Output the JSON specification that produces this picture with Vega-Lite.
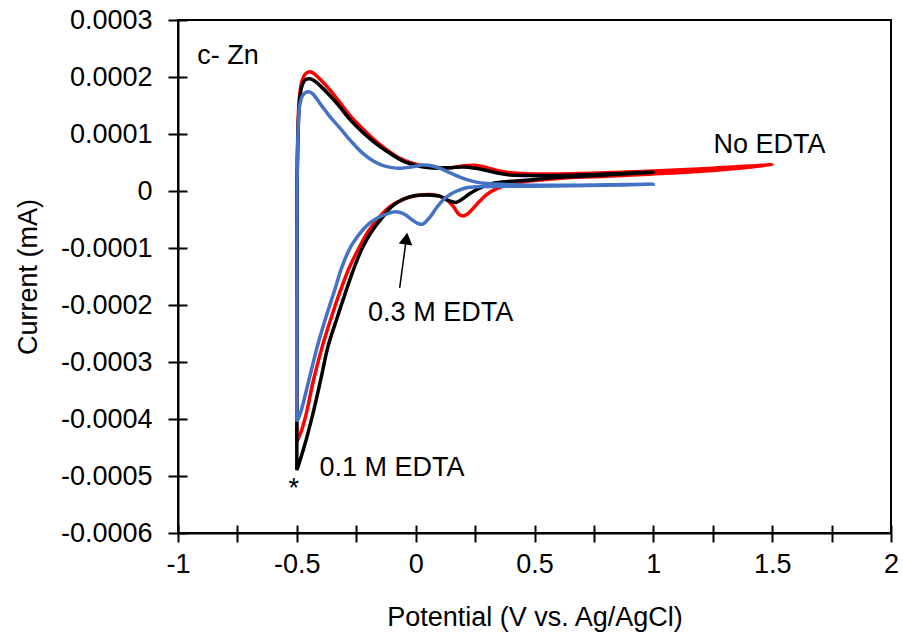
{
  "$schema": "https://vega.github.io/schema/vega-lite/v6.json",
  "width": 713,
  "height": 513,
  "autosize": "none",
  "padding": {"left": 178, "top": 20, "right": 12, "bottom": 107},
  "background": "white",
  "config": {
    "font": "Liberation Sans",
    "view": {"stroke": "#000000", "strokeWidth": 2},
    "axis": {
      "grid": false,
      "domainColor": "#000000",
      "domainWidth": 2,
      "tickColor": "#000000",
      "tickWidth": 2,
      "labelColor": "#000000",
      "labelFont": "Liberation Sans",
      "labelFontSize": 27,
      "titleFont": "Liberation Sans",
      "titleFontSize": 27,
      "titleFontWeight": "normal",
      "titleColor": "#000000",
      "labelFlush": false,
      "labelOverlap": false
    }
  },
  "datasets": {
    "cv": [
      {"s":"No EDTA","n":1,"v":-0.5,"i":-0.00044},
      {"s":"No EDTA","n":2,"v":-0.5,"i":-0.0002},
      {"s":"No EDTA","n":3,"v":-0.499,"i":0},
      {"s":"No EDTA","n":4,"v":-0.496,"i":0.0001},
      {"s":"No EDTA","n":5,"v":-0.49,"i":0.00016},
      {"s":"No EDTA","n":6,"v":-0.48,"i":0.00019},
      {"s":"No EDTA","n":7,"v":-0.465,"i":0.000205},
      {"s":"No EDTA","n":8,"v":-0.445,"i":0.000209},
      {"s":"No EDTA","n":9,"v":-0.425,"i":0.000205},
      {"s":"No EDTA","n":10,"v":-0.4,"i":0.000195},
      {"s":"No EDTA","n":11,"v":-0.36,"i":0.000177},
      {"s":"No EDTA","n":12,"v":-0.32,"i":0.000156},
      {"s":"No EDTA","n":13,"v":-0.28,"i":0.000134},
      {"s":"No EDTA","n":14,"v":-0.22,"i":0.000108},
      {"s":"No EDTA","n":15,"v":-0.16,"i":0.000085},
      {"s":"No EDTA","n":16,"v":-0.1,"i":0.000066},
      {"s":"No EDTA","n":17,"v":-0.05,"i":0.000054},
      {"s":"No EDTA","n":18,"v":0,"i":0.000047},
      {"s":"No EDTA","n":19,"v":0.05,"i":0.000043},
      {"s":"No EDTA","n":20,"v":0.1,"i":0.000041},
      {"s":"No EDTA","n":21,"v":0.15,"i":0.000041},
      {"s":"No EDTA","n":22,"v":0.2,"i":0.000044},
      {"s":"No EDTA","n":23,"v":0.25,"i":0.000045},
      {"s":"No EDTA","n":24,"v":0.3,"i":0.000041},
      {"s":"No EDTA","n":25,"v":0.35,"i":0.000035},
      {"s":"No EDTA","n":26,"v":0.4,"i":0.000032},
      {"s":"No EDTA","n":27,"v":0.5,"i":0.00003},
      {"s":"No EDTA","n":28,"v":0.6,"i":0.00003},
      {"s":"No EDTA","n":29,"v":0.8,"i":0.000032},
      {"s":"No EDTA","n":30,"v":1.0,"i":0.000035},
      {"s":"No EDTA","n":31,"v":1.25,"i":0.00004},
      {"s":"No EDTA","n":32,"v":1.5,"i":0.000046},
      {"s":"No EDTA","n":33,"v":1.25,"i":0.000036},
      {"s":"No EDTA","n":34,"v":1.0,"i":0.00003},
      {"s":"No EDTA","n":35,"v":0.8,"i":0.000026},
      {"s":"No EDTA","n":36,"v":0.6,"i":0.000022},
      {"s":"No EDTA","n":37,"v":0.45,"i":0.000016},
      {"s":"No EDTA","n":38,"v":0.38,"i":0.00001},
      {"s":"No EDTA","n":39,"v":0.33,"i":0.000002},
      {"s":"No EDTA","n":40,"v":0.3,"i":-0.000006},
      {"s":"No EDTA","n":41,"v":0.26,"i":-0.000022},
      {"s":"No EDTA","n":42,"v":0.225,"i":-0.000038},
      {"s":"No EDTA","n":43,"v":0.2,"i":-0.000044},
      {"s":"No EDTA","n":44,"v":0.18,"i":-0.00004},
      {"s":"No EDTA","n":45,"v":0.16,"i":-0.000028},
      {"s":"No EDTA","n":46,"v":0.13,"i":-0.000015},
      {"s":"No EDTA","n":47,"v":0.1,"i":-0.000009},
      {"s":"No EDTA","n":48,"v":0.06,"i":-0.000006},
      {"s":"No EDTA","n":49,"v":0.02,"i":-0.000007},
      {"s":"No EDTA","n":50,"v":-0.02,"i":-0.00001},
      {"s":"No EDTA","n":51,"v":-0.06,"i":-0.000016},
      {"s":"No EDTA","n":52,"v":-0.11,"i":-0.000028},
      {"s":"No EDTA","n":53,"v":-0.151,"i":-0.000045},
      {"s":"No EDTA","n":54,"v":-0.2,"i":-0.000071},
      {"s":"No EDTA","n":55,"v":-0.236,"i":-0.000098},
      {"s":"No EDTA","n":56,"v":-0.28,"i":-0.000135},
      {"s":"No EDTA","n":57,"v":-0.316,"i":-0.000174},
      {"s":"No EDTA","n":58,"v":-0.355,"i":-0.000222},
      {"s":"No EDTA","n":59,"v":-0.393,"i":-0.000273},
      {"s":"No EDTA","n":60,"v":-0.43,"i":-0.000332},
      {"s":"No EDTA","n":61,"v":-0.46,"i":-0.00039},
      {"s":"No EDTA","n":62,"v":-0.48,"i":-0.00042},
      {"s":"No EDTA","n":63,"v":-0.5,"i":-0.00044},

      {"s":"0.1 M EDTA","n":1,"v":-0.5,"i":-0.00049},
      {"s":"0.1 M EDTA","n":2,"v":-0.5,"i":-0.0003},
      {"s":"0.1 M EDTA","n":3,"v":-0.499,"i":0},
      {"s":"0.1 M EDTA","n":4,"v":-0.495,"i":0.0001},
      {"s":"0.1 M EDTA","n":5,"v":-0.49,"i":0.00015},
      {"s":"0.1 M EDTA","n":6,"v":-0.48,"i":0.000182},
      {"s":"0.1 M EDTA","n":7,"v":-0.465,"i":0.000195},
      {"s":"0.1 M EDTA","n":8,"v":-0.445,"i":0.000197},
      {"s":"0.1 M EDTA","n":9,"v":-0.425,"i":0.000193},
      {"s":"0.1 M EDTA","n":10,"v":-0.4,"i":0.000184},
      {"s":"0.1 M EDTA","n":11,"v":-0.36,"i":0.000167},
      {"s":"0.1 M EDTA","n":12,"v":-0.32,"i":0.000148},
      {"s":"0.1 M EDTA","n":13,"v":-0.28,"i":0.000127},
      {"s":"0.1 M EDTA","n":14,"v":-0.22,"i":0.000102},
      {"s":"0.1 M EDTA","n":15,"v":-0.16,"i":0.000081},
      {"s":"0.1 M EDTA","n":16,"v":-0.1,"i":0.000064},
      {"s":"0.1 M EDTA","n":17,"v":-0.05,"i":0.000052},
      {"s":"0.1 M EDTA","n":18,"v":0,"i":0.000045},
      {"s":"0.1 M EDTA","n":19,"v":0.05,"i":0.000041},
      {"s":"0.1 M EDTA","n":20,"v":0.1,"i":0.00004},
      {"s":"0.1 M EDTA","n":21,"v":0.15,"i":0.000041},
      {"s":"0.1 M EDTA","n":22,"v":0.2,"i":0.000042},
      {"s":"0.1 M EDTA","n":23,"v":0.25,"i":0.00004},
      {"s":"0.1 M EDTA","n":24,"v":0.3,"i":0.000036},
      {"s":"0.1 M EDTA","n":25,"v":0.35,"i":0.000031},
      {"s":"0.1 M EDTA","n":26,"v":0.4,"i":0.000028},
      {"s":"0.1 M EDTA","n":27,"v":0.5,"i":0.000027},
      {"s":"0.1 M EDTA","n":28,"v":0.6,"i":0.000027},
      {"s":"0.1 M EDTA","n":29,"v":0.8,"i":0.00003},
      {"s":"0.1 M EDTA","n":30,"v":1.0,"i":0.000033},
      {"s":"0.1 M EDTA","n":31,"v":0.8,"i":0.000028},
      {"s":"0.1 M EDTA","n":32,"v":0.6,"i":0.000024},
      {"s":"0.1 M EDTA","n":33,"v":0.5,"i":0.00002},
      {"s":"0.1 M EDTA","n":34,"v":0.4,"i":0.000017},
      {"s":"0.1 M EDTA","n":35,"v":0.33,"i":0.000014},
      {"s":"0.1 M EDTA","n":36,"v":0.29,"i":0.000009},
      {"s":"0.1 M EDTA","n":37,"v":0.26,"i":0.000003},
      {"s":"0.1 M EDTA","n":38,"v":0.23,"i":-0.000004},
      {"s":"0.1 M EDTA","n":39,"v":0.2,"i":-0.000013},
      {"s":"0.1 M EDTA","n":40,"v":0.17,"i":-0.00002},
      {"s":"0.1 M EDTA","n":41,"v":0.14,"i":-0.000017},
      {"s":"0.1 M EDTA","n":42,"v":0.1,"i":-0.000009},
      {"s":"0.1 M EDTA","n":43,"v":0.05,"i":-0.000007},
      {"s":"0.1 M EDTA","n":44,"v":0,"i":-0.000008},
      {"s":"0.1 M EDTA","n":45,"v":-0.05,"i":-0.000014},
      {"s":"0.1 M EDTA","n":46,"v":-0.1,"i":-0.000027},
      {"s":"0.1 M EDTA","n":47,"v":-0.137,"i":-0.000045},
      {"s":"0.1 M EDTA","n":48,"v":-0.18,"i":-0.000068},
      {"s":"0.1 M EDTA","n":49,"v":-0.222,"i":-0.0000977},
      {"s":"0.1 M EDTA","n":50,"v":-0.26,"i":-0.000136},
      {"s":"0.1 M EDTA","n":51,"v":-0.292,"i":-0.000174},
      {"s":"0.1 M EDTA","n":52,"v":-0.33,"i":-0.000222},
      {"s":"0.1 M EDTA","n":53,"v":-0.369,"i":-0.000273},
      {"s":"0.1 M EDTA","n":54,"v":-0.4,"i":-0.000332},
      {"s":"0.1 M EDTA","n":55,"v":-0.432,"i":-0.00039},
      {"s":"0.1 M EDTA","n":56,"v":-0.47,"i":-0.00045},
      {"s":"0.1 M EDTA","n":57,"v":-0.5,"i":-0.00049},

      {"s":"0.3 M EDTA","n":1,"v":-0.5,"i":-0.000405},
      {"s":"0.3 M EDTA","n":2,"v":-0.5,"i":-0.0002},
      {"s":"0.3 M EDTA","n":3,"v":-0.499,"i":0},
      {"s":"0.3 M EDTA","n":4,"v":-0.495,"i":0.0001},
      {"s":"0.3 M EDTA","n":5,"v":-0.488,"i":0.00015},
      {"s":"0.3 M EDTA","n":6,"v":-0.475,"i":0.000168},
      {"s":"0.3 M EDTA","n":7,"v":-0.455,"i":0.000174},
      {"s":"0.3 M EDTA","n":8,"v":-0.435,"i":0.000171},
      {"s":"0.3 M EDTA","n":9,"v":-0.4,"i":0.000152},
      {"s":"0.3 M EDTA","n":10,"v":-0.36,"i":0.00013},
      {"s":"0.3 M EDTA","n":11,"v":-0.32,"i":0.000111},
      {"s":"0.3 M EDTA","n":12,"v":-0.29,"i":0.000096},
      {"s":"0.3 M EDTA","n":13,"v":-0.26,"i":0.000082},
      {"s":"0.3 M EDTA","n":14,"v":-0.222,"i":0.000066},
      {"s":"0.3 M EDTA","n":15,"v":-0.18,"i":0.000053},
      {"s":"0.3 M EDTA","n":16,"v":-0.14,"i":0.000045},
      {"s":"0.3 M EDTA","n":17,"v":-0.1,"i":0.000041},
      {"s":"0.3 M EDTA","n":18,"v":-0.06,"i":0.00004},
      {"s":"0.3 M EDTA","n":19,"v":-0.02,"i":0.000042},
      {"s":"0.3 M EDTA","n":20,"v":0.03,"i":0.0000455},
      {"s":"0.3 M EDTA","n":21,"v":0.07,"i":0.000044},
      {"s":"0.3 M EDTA","n":22,"v":0.1,"i":0.00004},
      {"s":"0.3 M EDTA","n":23,"v":0.15,"i":0.000031},
      {"s":"0.3 M EDTA","n":24,"v":0.2,"i":0.000022},
      {"s":"0.3 M EDTA","n":25,"v":0.25,"i":0.000016},
      {"s":"0.3 M EDTA","n":26,"v":0.3,"i":0.000013},
      {"s":"0.3 M EDTA","n":27,"v":0.4,"i":0.000011},
      {"s":"0.3 M EDTA","n":28,"v":0.6,"i":0.00001},
      {"s":"0.3 M EDTA","n":29,"v":0.8,"i":0.000011},
      {"s":"0.3 M EDTA","n":30,"v":1.0,"i":0.000012},
      {"s":"0.3 M EDTA","n":31,"v":0.8,"i":0.00001},
      {"s":"0.3 M EDTA","n":32,"v":0.5,"i":0.0000085},
      {"s":"0.3 M EDTA","n":33,"v":0.3,"i":0.000008},
      {"s":"0.3 M EDTA","n":34,"v":0.22,"i":0.000006},
      {"s":"0.3 M EDTA","n":35,"v":0.18,"i":0.000001},
      {"s":"0.3 M EDTA","n":36,"v":0.15,"i":-0.000005},
      {"s":"0.3 M EDTA","n":37,"v":0.12,"i":-0.000014},
      {"s":"0.3 M EDTA","n":38,"v":0.09,"i":-0.000028},
      {"s":"0.3 M EDTA","n":39,"v":0.06,"i":-0.000046},
      {"s":"0.3 M EDTA","n":40,"v":0.03,"i":-0.000058},
      {"s":"0.3 M EDTA","n":41,"v":0.01,"i":-0.000057},
      {"s":"0.3 M EDTA","n":42,"v":-0.02,"i":-0.000049},
      {"s":"0.3 M EDTA","n":43,"v":-0.05,"i":-0.00004},
      {"s":"0.3 M EDTA","n":44,"v":-0.085,"i":-0.0000365},
      {"s":"0.3 M EDTA","n":45,"v":-0.12,"i":-0.00004},
      {"s":"0.3 M EDTA","n":46,"v":-0.155,"i":-0.000046},
      {"s":"0.3 M EDTA","n":47,"v":-0.19,"i":-0.000055},
      {"s":"0.3 M EDTA","n":48,"v":-0.222,"i":-0.000068},
      {"s":"0.3 M EDTA","n":49,"v":-0.25,"i":-0.000083},
      {"s":"0.3 M EDTA","n":50,"v":-0.273,"i":-0.0000977},
      {"s":"0.3 M EDTA","n":51,"v":-0.31,"i":-0.000133},
      {"s":"0.3 M EDTA","n":52,"v":-0.341,"i":-0.000174},
      {"s":"0.3 M EDTA","n":53,"v":-0.378,"i":-0.000222},
      {"s":"0.3 M EDTA","n":54,"v":-0.414,"i":-0.000273},
      {"s":"0.3 M EDTA","n":55,"v":-0.45,"i":-0.000333},
      {"s":"0.3 M EDTA","n":56,"v":-0.485,"i":-0.00039},
      {"s":"0.3 M EDTA","n":57,"v":-0.5,"i":-0.000405}
    ],
    "notes": [
      {"t":"c- Zn","v":-0.79,"i":0.000237},
      {"t":"No EDTA","v":1.489,"i":0.0000807},
      {"t":"0.3 M EDTA","v":0.105,"i":-0.000214},
      {"t":"0.1 M EDTA","v":-0.1,"i":-0.000486},
      {"t":"*","v":-0.513,"i":-0.000522}
    ],
    "arrow": [
      {"v":-0.0673,"i":-0.00017,"v2":-0.042,"i2":-0.000092}
    ],
    "head": [
      {"v":-0.039,"i":-0.0000835}
    ]
  },
  "layer": [
    {
      "data": {"name": "cv"},
      "mark": {"type": "line", "strokeWidth": 3.5, "interpolate": "catmull-rom"},
      "encoding": {
        "x": {
          "field": "v", "type": "quantitative",
          "scale": {"domain": [-1, 2], "nice": false, "zero": false},
          "axis": {
            "orient": "bottom",
            "values": [-1,-0.75,-0.5,-0.25,0,0.25,0.5,0.75,1,1.25,1.5,1.75,2],
            "format": "~g",
            "labelExpr": "datum.value % 0.5 === 0 ? replace(datum.label, '\u2212', '-') : ''",
            "tickSize": 9,
            "labelPadding": 9,
            "title": "Potential (V vs. Ag/AgCl)",
            "titleX": 356.5,
            "titleY": 71
          }
        },
        "y": {
          "field": "i", "type": "quantitative",
          "scale": {"domain": [-0.0006, 0.0003], "nice": false, "zero": false},
          "axis": {
            "orient": "left",
            "values": [-0.0006,-0.0005,-0.0004,-0.0003,-0.0002,-0.0001,0,0.0001,0.0002,0.0003],
            "format": "~g",
            "labelExpr": "replace(datum.label, '\u2212', '-')",
            "tickSize": 10,
            "labelPadding": 16,
            "title": "Current (mA)",
            "titleX": -136,
            "titleY": 256.5
          }
        },
        "color": {
          "field": "s", "type": "nominal",
          "scale": {"domain": ["No EDTA", "0.1 M EDTA", "0.3 M EDTA"], "range": ["#FF0000", "#000000", "#4472C4"]},
          "legend": null
        },
        "order": {"field": "n", "type": "quantitative"}
      }
    },
    {
      "data": {"name": "notes"},
      "mark": {"type": "text", "fontSize": 27, "font": "Liberation Sans", "color": "#000000", "align": "center", "baseline": "middle"},
      "encoding": {
        "x": {
          "field": "v", "type": "quantitative",
          "axis": {
            "orient": "top", "offset": -513,
            "values": [-1,-0.75,-0.5,-0.25,0,0.25,0.5,0.75,1,1.25,1.5,1.75,2],
            "tickSize": 8, "labels": false, "domain": false, "title": null
          }
        },
        "y": {
          "field": "i", "type": "quantitative",
          "axis": {
            "orient": "right", "offset": -713,
            "values": [-0.0006,-0.0005,-0.0004,-0.0003,-0.0002,-0.0001,0,0.0001,0.0002,0.0003],
            "tickSize": 9, "labels": false, "domain": false, "title": null
          }
        },
        "text": {"field": "t", "type": "nominal"}
      }
    },
    {
      "data": {"name": "arrow"},
      "mark": {"type": "rule", "strokeWidth": 1.5, "color": "#000000"},
      "encoding": {
        "x": {"field": "v", "type": "quantitative", "axis": null},
        "y": {"field": "i", "type": "quantitative", "axis": null},
        "x2": {"field": "v2"},
        "y2": {"field": "i2"}
      }
    },
    {
      "data": {"name": "head"},
      "mark": {"type": "point", "shape": "triangle-up", "filled": true, "color": "#000000", "size": 190, "angle": 8, "opacity": 1},
      "encoding": {
        "x": {"field": "v", "type": "quantitative", "axis": null},
        "y": {"field": "i", "type": "quantitative", "axis": null}
      }
    }
  ],
  "resolve": {"axis": {"x": "independent", "y": "independent"}}
}
